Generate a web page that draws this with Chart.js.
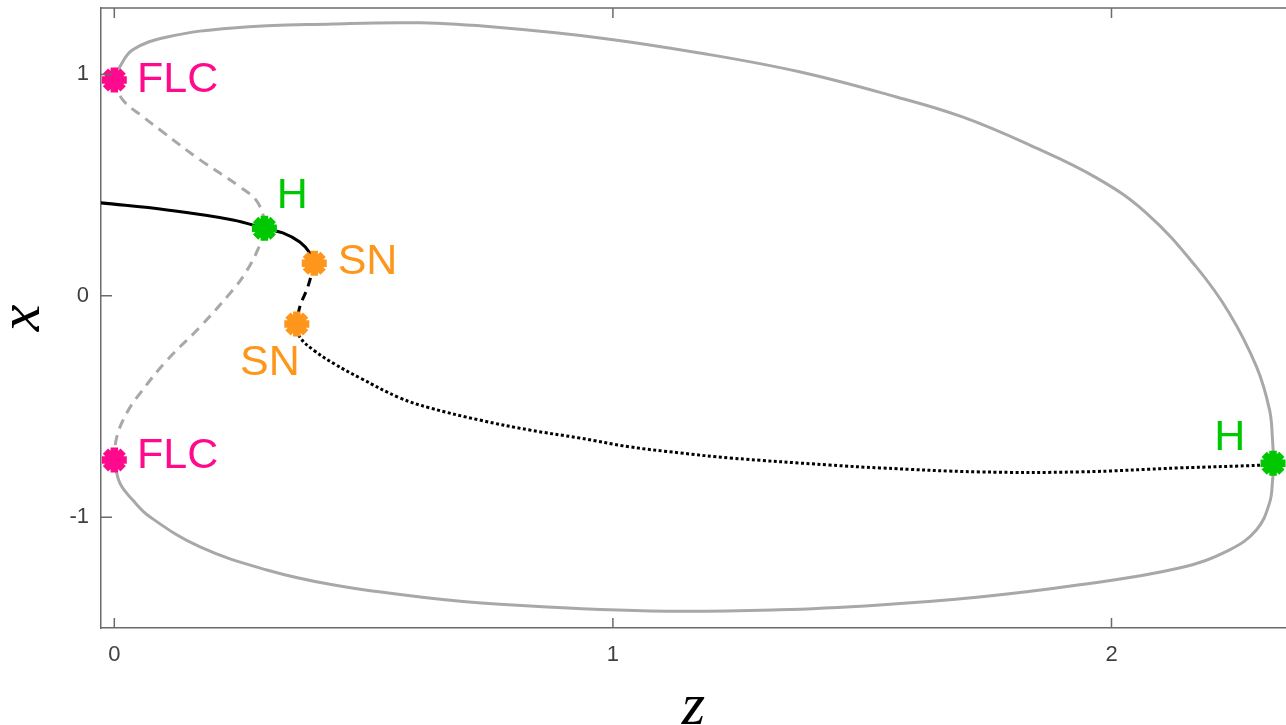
<!DOCTYPE html>
<html lang="en">
<head>
<meta charset="UTF-8">
<title>Bifurcation diagram x vs z</title>
<script src="https://cdn.jsdelivr.net/npm/chart.js"></script>
<style>
  html, body { margin: 0; padding: 0; background: #fff; }
  #wrap { width: 1286px; height: 725px; }
</style>
</head>
<body>
<div id="wrap"><canvas id="bif"></canvas></div>
<script>
// stable limit cycle (max and min branches, one closed curve)
const loopZ = [0, 0.011, 0.037, 0.106, 0.238, 0.438, 0.613, 0.773, 0.974, 1.174, 1.374, 1.569, 1.701, 1.835, 1.970, 2.070, 2.170, 2.236, 2.291, 2.317, 2.323, 2.325, 2.323, 2.317, 2.291, 2.236, 2.136, 1.936, 1.735, 1.535, 1.334, 1.074, 0.773, 0.613, 0.438, 0.306, 0.172, 0.072, 0.037, 0.011, 0];
const loopX = [0.975, 1.034, 1.111, 1.169, 1.210, 1.228, 1.233, 1.212, 1.165, 1.097, 1.012, 0.898, 0.808, 0.682, 0.533, 0.374, 0.131, -0.077, -0.321, -0.515, -0.650, -0.756, -0.836, -0.935, -1.056, -1.148, -1.229, -1.305, -1.360, -1.396, -1.418, -1.423, -1.393, -1.360, -1.305, -1.238, -1.134, -0.999, -0.922, -0.845, -0.741];

// unstable limit cycle (dashed grey)
const ulcZ = [0, 0.017, 0.058, 0.092, 0.172, 0.252, 0.288, 0.301, 0.286, 0.262, 0.238, 0.172, 0.106, 0.052, 0.025, 0.005, 0];
const ulcX = [0.975, 0.885, 0.808, 0.749, 0.614, 0.492, 0.420, 0.305, 0.200, 0.100, 0.027, -0.140, -0.290, -0.439, -0.529, -0.637, -0.741];

// stable equilibrium (solid black)
const stableZ = [-0.027, 0.106, 0.238, 0.301, 0.338, 0.372, 0.392, 0.401];
const stableX = [0.420, 0.388, 0.343, 0.305, 0.284, 0.243, 0.194, 0.147];

// saddle between the two SN points (dashed black)
const saddleZ = [0.401, 0.388, 0.372, 0.366];
const saddleX = [0.147, 0.040, -0.050, -0.127];

// unstable equilibrium (dotted black)
const unstZ = [0.366, 0.372, 0.402, 0.442, 0.493, 0.573, 0.633, 0.733, 0.833, 0.933, 1.034, 1.134, 1.234, 1.435, 1.535, 1.735, 1.936, 2.136, 2.303, 2.324];
const unstX = [-0.127, -0.186, -0.249, -0.308, -0.371, -0.461, -0.506, -0.561, -0.606, -0.642, -0.682, -0.709, -0.732, -0.764, -0.777, -0.795, -0.795, -0.777, -0.764, -0.756];

// special points
const flcZ = [0, 0];
const flcX = [0.975, -0.741];
const hopfZ = [0.301, 2.324];
const hopfX = [0.305, -0.756];
const snZ = [0.401, 0.366];
const snX = [0.147, -0.127];

// point labels (anchor = left/middle of text, in data units)
const labelText = ['FLC', 'FLC', 'H', 'H', 'SN', 'SN'];
const labelZ = [0.0455, 0.0455, 0.326, 2.206, 0.448, 0.252];
const labelX = [0.973, -0.726, 0.451, -0.642, 0.153, -0.303];

const zTicks = [0, 1, 2];
const xTicks = [-1, 0, 1];

const MAGENTA = '#ff0a8c';
const GREEN = '#00c800';
const ORANGE = '#ff961c';
const labelColor = { FLC: MAGENTA, H: GREEN, SN: ORANGE };

const pts = (zs, xs) => zs.map((z, i) => ({ x: z, y: xs[i] }));

function curve(data, color, dash) {
    return {
        data: data,
        showLine: true,
        borderColor: color,
        borderWidth: 3,
        borderDash: dash,
        pointRadius: 0,
        tension: 0.4,
        order: 2
    };
}

function markers(data, color) {
    return {
        data: data,
        showLine: false,
        pointStyle: 'star',
        pointRadius: 12.5,
        pointBorderWidth: 7.5,
        pointBorderColor: color,
        pointBackgroundColor: color,
        order: 0
    };
}

// inward ticks + top box line, like the original figure
const boxTicks = {
    id: 'boxTicks',
    afterDraw(chart) {
        const { ctx, chartArea: a } = chart;
        const xs = chart.scales.x, ys = chart.scales.y;
        ctx.save();
        ctx.strokeStyle = '#6b6b6b';
        ctx.lineWidth = 1.5;
        ctx.beginPath();
        ctx.moveTo(a.left, a.top);
        ctx.lineTo(a.right, a.top);
        zTicks.forEach(v => {
            const p = xs.getPixelForValue(v);
            ctx.moveTo(p, a.bottom); ctx.lineTo(p, a.bottom - 10);
            ctx.moveTo(p, a.top); ctx.lineTo(p, a.top + 10);
        });
        xTicks.forEach(v => {
            const p = ys.getPixelForValue(v);
            ctx.moveTo(a.left, p); ctx.lineTo(a.left + 11, p);
        });
        ctx.stroke();
        ctx.restore();
    },
    afterDatasetsDraw(chart) {
        const { ctx } = chart;
        const xs = chart.scales.x, ys = chart.scales.y;
        ctx.save();
        ctx.font = '43px "Liberation Sans", Arial, sans-serif';
        ctx.textAlign = 'left';
        ctx.textBaseline = 'middle';
        labelText.forEach((t, i) => {
            ctx.fillStyle = labelColor[t];
            ctx.fillText(t, xs.getPixelForValue(labelZ[i]), ys.getPixelForValue(labelX[i]));
        });
        ctx.restore();
    }
};

const tickFont = { family: '"Liberation Sans", Arial, sans-serif', size: 22 };
const titleFont = { family: '"Liberation Serif", "Times New Roman", serif', style: 'italic', size: 60, lineHeight: 1 };

new Chart(document.getElementById('bif'), {
    type: 'scatter',
    data: {
        datasets: [
            markers(pts(flcZ, flcX), MAGENTA),
            markers(pts(hopfZ, hopfX), GREEN),
            markers(pts(snZ, snX), ORANGE),
            curve(pts(loopZ, loopX), '#a8a8a8', []),
            curve(pts(ulcZ, ulcX), '#a8a8a8', [10, 7]),
            curve(pts(stableZ, stableX), '#000000', []),
            curve(pts(saddleZ, saddleX), '#000000', [9, 6]),
            curve(pts(unstZ, unstX), '#000000', [3, 2.5])
        ]
    },
    options: {
        responsive: true,
        maintainAspectRatio: false,
        animation: false,
        layout: { autoPadding: false, padding: { top: 8, right: 0, bottom: 0, left: 0 } },
        plugins: { legend: { display: false }, tooltip: { enabled: false } },
        scales: {
            x: {
                type: 'linear',
                min: -0.0267,
                max: 2.35,
                afterBuildTicks: s => { s.ticks = zTicks.map(v => ({ value: v })); },
                afterFit: s => { s.height = 97; s.paddingLeft = 0; s.paddingRight = 0; },
                grid: { display: false, drawTicks: false },
                border: { display: true, color: '#6b6b6b', width: 1.5 },
                ticks: { font: tickFont, color: '#404040', padding: 14 },
                title: { display: true, text: 'z', color: '#000', font: titleFont, padding: { top: 0, bottom: -13 } }
            },
            y: {
                type: 'linear',
                min: -1.5,
                max: 1.3,
                afterBuildTicks: s => { s.ticks = xTicks.map(v => ({ value: v })); },
                afterFit: s => { s.width = 101; s.paddingTop = 0; s.paddingBottom = 0; },
                grid: { display: false, drawTicks: false },
                border: { display: true, color: '#6b6b6b', width: 1.5 },
                ticks: { font: tickFont, color: '#404040', padding: 12 },
                title: { display: true, text: 'x', color: '#000', font: titleFont, padding: { top: -7, bottom: 0 } }
            }
        }
    },
    plugins: [boxTicks]
});
</script>
</body>
</html>
